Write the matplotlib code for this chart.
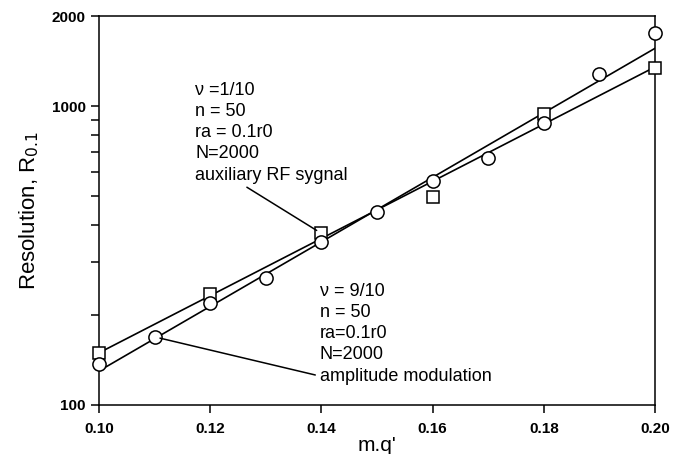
import numpy as np
import matplotlib
matplotlib.use("Agg")
import matplotlib.pyplot as plt
from matplotlib.ticker import FixedLocator, FixedFormatter, NullFormatter

plt.rcParams['font.family'] = ['Liberation Sans', 'DejaVu Sans']

# data
x_rf = [0.10, 0.12, 0.14, 0.16, 0.18, 0.20]
r_rf = [149, 236, 375, 495, 940, 1341]          # squares, auxiliary RF signal

x_am = [0.10, 0.11, 0.12, 0.13, 0.14, 0.15, 0.16, 0.17, 0.18, 0.19, 0.20]
r_am = [137, 169, 220, 265, 350, 441, 560, 669, 877, 1280, 1758]   # circles, amplitude modulation

x_ticks = [0.10, 0.12, 0.14, 0.16, 0.18, 0.20]
y_ticks = [100, 1000, 2000]
y_minor = [200, 300, 400, 500, 600, 700, 800, 900]

fig = plt.figure(figsize=(6.73, 4.54), dpi=100)
ax = fig.add_axes([99/673, 1-405/454, (655-99)/673, (405-16)/454])
ax.set_yscale('log')

# straight fits in log space
xf = np.array([0.10, 0.20])
for xs, ys in [(x_rf, r_rf), (x_am, r_am)]:
    k, b = np.polyfit(xs, np.log10(ys), 1)
    ax.plot(xf, 10**(k*xf + b), color='black', lw=1.2, zorder=2)

ax.plot(x_rf, r_rf, ls='none', marker='s', ms=8, mfc='white', mec='black', mew=1.1, zorder=3, clip_on=False)
ax.plot(x_am, r_am, ls='none', marker='o', ms=9.5, mfc='white', mec='black', mew=1.1, zorder=3, clip_on=False)

ax.set_xlim(0.10, 0.20)
ax.set_ylim(100, 2000)
ax.xaxis.set_major_locator(FixedLocator(x_ticks))
ax.set_xticklabels([f"{v:.2f}" for v in x_ticks])
ax.yaxis.set_major_locator(FixedLocator(y_ticks))
ax.yaxis.set_major_formatter(FixedFormatter([str(v) for v in y_ticks]))
ax.yaxis.set_minor_locator(FixedLocator(y_minor))
ax.yaxis.set_minor_formatter(NullFormatter())
ax.xaxis.set_minor_locator(FixedLocator([]))

ax.tick_params(axis='both', which='major', direction='out', length=6, width=1.1,
               labelsize=11, top=False, right=False)
ax.tick_params(axis='x', which='major', pad=6)
ax.tick_params(axis='y', which='minor', direction='out', length=6, width=1.1)
for lab in ax.get_xticklabels() + ax.get_yticklabels():
    lab.set_fontweight('bold')
for s in ax.spines.values():
    s.set_linewidth(1.1)

ax.set_xlabel("m.q'", fontsize=15, labelpad=0)
ax.set_ylabel("Resolution, R$_{0.1}$", fontsize=16, labelpad=8)

# annotations
ax.text(0.1173, 1204, "\u03bd =1/10\nn = 50\nra = 0.1r0\nN=2000\nauxiliary RF sygnal",
        fontsize=13, va='top', ha='left', linespacing=1.32)
ax.annotate('', xy=(x_rf[2], r_rf[2]), xytext=(0.1266, 535),
            arrowprops=dict(arrowstyle='-', color='black', lw=1.1, shrinkA=0, shrinkB=4))

ax.text(0.1397, 256, "\u03bd = 9/10\nn = 50\nra=0.1r0\nN=2000\namplitude modulation",
        fontsize=13, va='top', ha='left', linespacing=1.32)
ax.annotate('', xy=(x_am[1], r_am[1]), xytext=(0.1389, 126),
            arrowprops=dict(arrowstyle='-', color='black', lw=1.1, shrinkA=0, shrinkB=4))

fig.savefig("out.png", dpi=100)
